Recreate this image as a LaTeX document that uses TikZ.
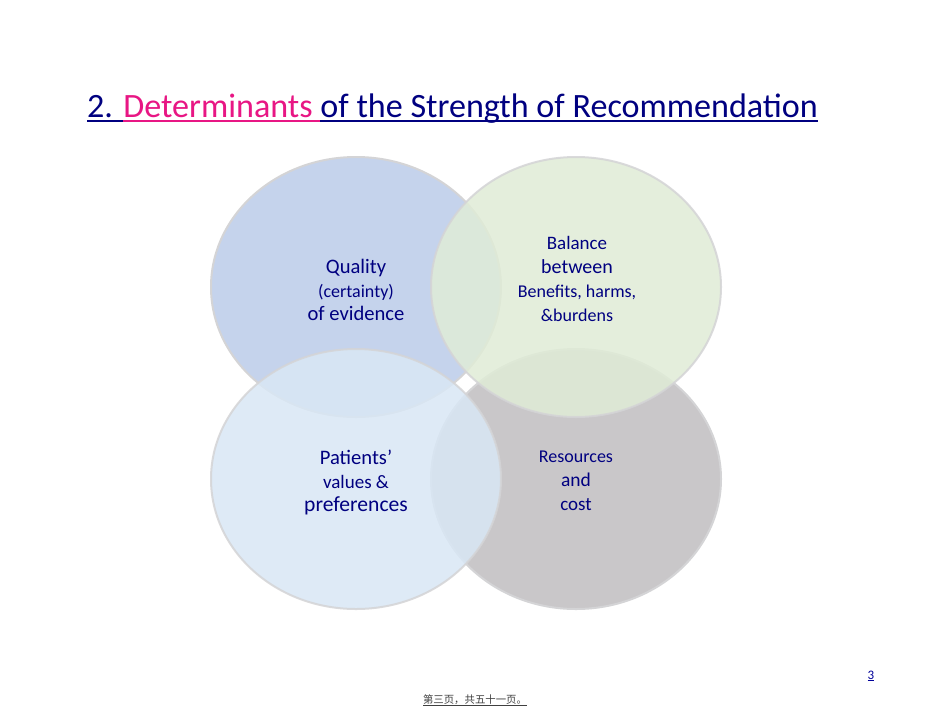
\documentclass[tikz,border=0pt]{standalone}
\usepackage{fontspec}
\setmainfont{Carlito}
\newfontfamily\cjkfont{Noto Sans CJK SC}
\usepackage{tikz}
\usetikzlibrary{positioning, shapes.geometric}
\definecolor{titlenavy}{RGB}{0,0,128}
\definecolor{titlepink}{RGB}{232,22,132}
\definecolor{qualblue}{RGB}{197,211,236}
\definecolor{balgreen}{RGB}{224,236,215}
\definecolor{patblue}{RGB}{217,231,245}
\definecolor{resgray}{RGB}{201,199,201}
\definecolor{rimgray}{RGB}{212,212,214}
\newcommand{\fs}[1]{\fontsize{#1}{#1}\selectfont}
% underline: #1 offset below baseline, #2 thickness
\newcommand{\uln}[3]{\setbox0=\hbox{#3}\rlap{\rule[-#1]{\wd0}{#2}}\box0}

\begin{document}
\begin{tikzpicture}[
      x=1pt, y=-1pt,
      petal/.style={ellipse, draw=rimgray, line width=2pt,
                    minimum width=290pt, minimum height=260pt},
      petaltext/.style={align=center, text=titlenavy, inner sep=0pt,
                        font=\fontsize{19}{23.8}\selectfont},
    ]
    \useasboundingbox[fill=white] (0,0) rectangle (950,713);

    % Titel
    \node[anchor=base west, inner sep=0pt, text=titlenavy, font=\fs{34.1}]
      (title) at (87,117)
      {\uln{5pt}{1.8pt}{2. }{\color{titlepink}\uln{5pt}{1.8pt}{Determinants }}\uln{5pt}{1.8pt}{of the Strength of Recommendation}};

    % Vier Ellipsen
    \node[petal, fill=resgray]                  (res)  at (576,479) {};
    \node[petal, fill=qualblue]                 (qual) at (356,287) {};
    \node[petal, fill=balgreen, opacity=0.85]   (bal)  at (576,287) {};
    \node[petal, fill=patblue, opacity=0.85]    (pat)  at (356,479) {};

    \node[petaltext] (qualtext) at (356,290)
      {{\fs{20.6}Quality}\\{\fs{18}(certainty)}\\{\fs{20.6}of evidence}};
    \node[petaltext] (baltext) at (577,279)
      {{\fs{19}Balance}\\{\fs{20}between}\\{\fs{18}Benefits, harms,}\\{\fs{18}\&burdens}};
    \node[petaltext] (pattext) at (356,482.5)
      {{\fs{20.6}Patients’}\\{\fs{19}values \&}\\{\fs{21.6}preferences}};
    \node[petaltext] (restext) at (576,481)
      {{\fs{18}Resources}\\{\fs{19.5}and}\\{\fs{19}cost}};

    % Fusszeile
    \node[text=titlenavy!80!blue, font=\fs{13}] (pagenum) at (871,676) {\uln{2pt}{0.8pt}{3}};
    \node[text=black!75, font=\cjkfont\fs{10.4}] (footer) at (475,700) {\uln{2pt}{0.8pt}{第三页，共五十一页。}};
  \end{tikzpicture}
\end{document}
